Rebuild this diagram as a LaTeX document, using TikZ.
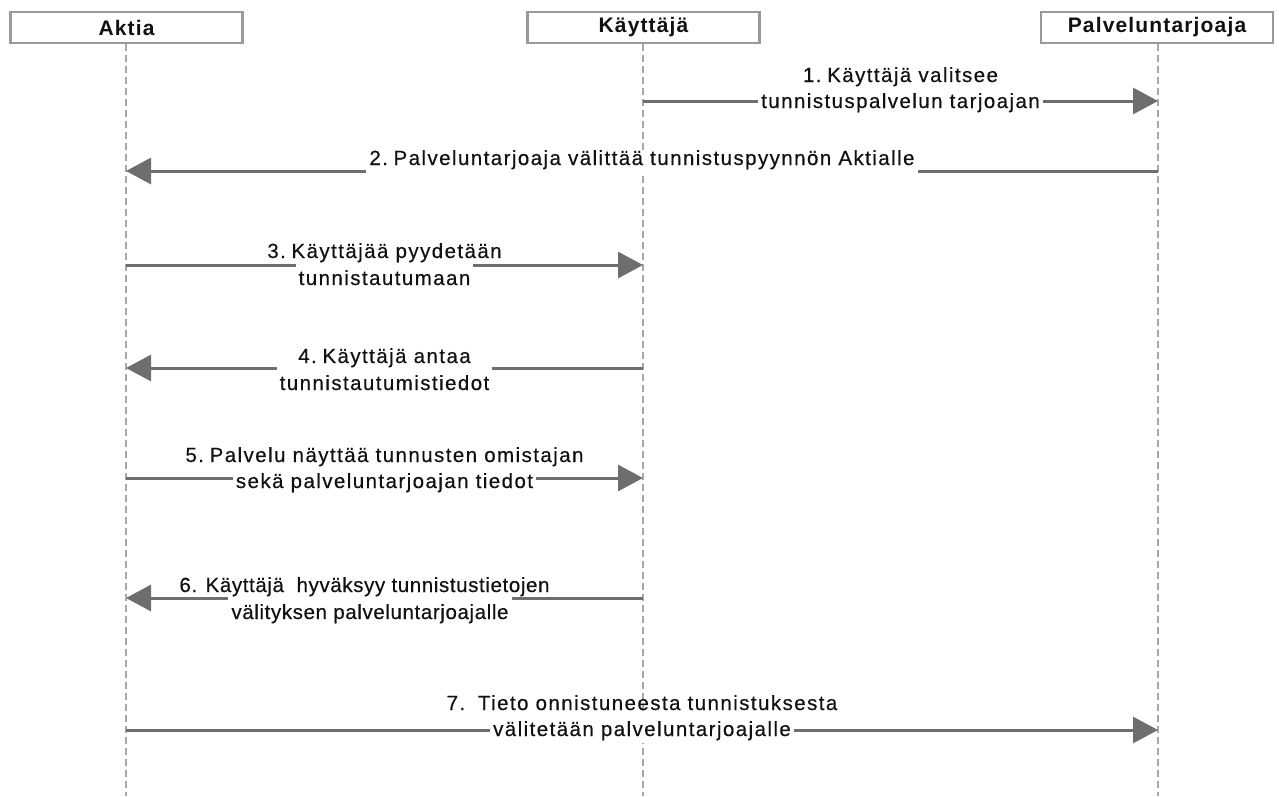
\documentclass[tikz,border=0pt]{standalone}
\usepackage{fontspec}
\setmainfont{Liberation Sans}
\newfontfamily\lblfont{Liberation Sans}[LetterSpace=7, FakeBold=0.4]
\newfontfamily\lblnarrow{Liberation Sans}[LetterSpace=3, FakeBold=0.4]
\newfontfamily\hdrfont{Liberation Sans}[LetterSpace=5.5]
\newcommand\numgap{\hspace{-1.5pt}\ }
\usetikzlibrary{arrows.meta}
\definecolor{boxgray}{HTML}{9A9A9A}
\definecolor{lifegray}{HTML}{A8A8A8}
\definecolor{arrowgray}{HTML}{6E6E6E}
\definecolor{txt}{HTML}{111111}
\begin{document}
\begin{tikzpicture}[x=1pt,y=-1pt,
  actor/.style={draw=boxgray, line width=2.5pt, fill=white, minimum width=232pt, minimum height=31pt, inner sep=0pt, text=txt, font=\hdrfont\fontsize{21}{24}\selectfont\bfseries},
  life/.style={draw=lifegray, line width=2pt, dash pattern=on 7pt off 4pt},
  msg/.style={draw=arrowgray, line width=3pt, -{Triangle[length=25pt,width=26pt]}},
  lbl/.style={anchor=base, inner sep=0pt, text=txt, font=\lblfont\fontsize{20.5}{24}\selectfont},
  masklbl/.style={lbl, fill=white, inner xsep=3pt, text height=24pt, text depth=7pt}
]
\useasboundingbox (0,0) rectangle (1279,796);
% lifelines
\coordinate (aEnd) at (126,796);
\coordinate (kEnd) at (643,796);
\coordinate (pEnd) at (1158,796);
\node[actor] (aktia) at (126.5,27.5) {};
\node[actor] (kayt) at (643.5,27.5) {};
\node[actor] (palv) at (1157,27.5) {};
\draw[life] (aktia.south -| aEnd) -- (aEnd);
\draw[life] (kayt.south -| kEnd) -- (kEnd);
\draw[life] (palv.south -| pEnd) -- (pEnd);
\node[actor, draw=none, fill=none] (aktiaT) at (aktia) {Aktia};
\node[actor, draw=none, fill=none] (kaytT) at (kayt) {Käyttäjä};
\node[actor, draw=none, fill=none] (palvT) at (palv) {Palveluntarjoaja};
% message end points
\coordinate (k1) at (643,101);  \coordinate (p1) at (1158,101);
\coordinate (p2) at (1158,171); \coordinate (a2) at (126,171);
\coordinate (a3) at (126,265);  \coordinate (k3) at (643,265);
\coordinate (k4) at (643,368);  \coordinate (a4) at (126,368);
\coordinate (a5) at (126,478);  \coordinate (k5) at (643,478);
\coordinate (k6) at (643,598);  \coordinate (a6) at (126,598);
\coordinate (a7) at (126,730);  \coordinate (p7) at (1158,730);
\draw[msg] (k1) -- (p1);
\draw[msg] (p2) -- (a2);
\draw[msg] (a3) -- (k3);
\draw[msg] (k4) -- (a4);
\draw[msg] (a5) -- (k5);
\draw[msg] (k6) -- (a6);
\draw[msg] (a7) -- (p7);
% labels
\node[masklbl] (l1b) at (900.5,108) {tunnistuspalvelun tarjoajan};
\node[lbl] (l1a) at (900.5,82) {1.\numgap Käyttäjä valitsee};
\node[masklbl, text height=15pt, text depth=10pt] (l2) at (642,165) {2.\numgap Palveluntarjoaja välittää tunnistuspyynnön Aktialle};
\node[masklbl] (l3b) at (384.5,285) {tunnistautumaan};
\node[lbl] (l3a) at (384.5,258) {3.\numgap Käyttäjää pyydetään};
\node[masklbl] (l4b) at (384.5,390) {tunnistautumistiedot};
\node[lbl] (l4a) at (384.5,363) {4.\numgap Käyttäjä antaa};
\node[masklbl] (l5b) at (384.5,488) {sekä palveluntarjoajan tiedot};
\node[lbl] (l5a) at (384.5,462) {5.\numgap Palvelu näyttää tunnusten omistajan};
\node[masklbl, font=\lblnarrow\fontsize{20.5}{24}\selectfont] (l6b) at (370,619) {välityksen palveluntarjoajalle};
\node[lbl, font=\lblnarrow\fontsize{20.5}{24}\selectfont] (l6a) at (364.5,592) {6. Käyttäjä\ \ hyväksyy tunnistustietojen};
\node[masklbl] (l7b) at (642,736) {välitetään palveluntarjoajalle};
\node[lbl] (l7a) at (642,710) {7.\numgap\ Tieto onnistuneesta tunnistuksesta};
\end{tikzpicture}
\end{document}
